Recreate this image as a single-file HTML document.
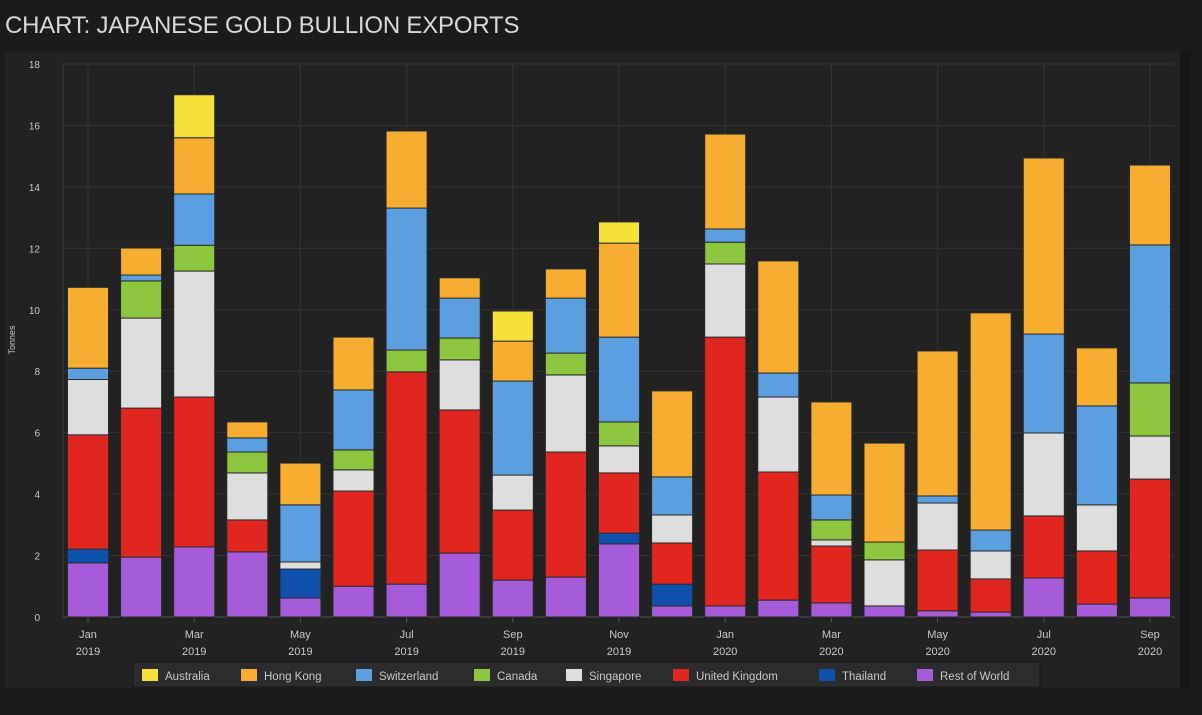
<!DOCTYPE html>
<html><head><meta charset="utf-8"><style>
html,body{margin:0;padding:0;background:#1b1b1c;width:1202px;height:715px;overflow:hidden;font-family:"Liberation Sans",sans-serif}
#title{position:absolute;left:5px;top:12px;font-size:24px;color:#d8d8d8;letter-spacing:-0.2px}
</style></head><body>
<div id="title">CHART: JAPANESE GOLD BULLION EXPORTS</div>
<svg id="chart" width="1202" height="715" style="position:absolute;left:0;top:0">
<rect x="5" y="52" width="1175" height="636" fill="#222223"/>
<rect x="1180" y="52" width="10" height="636" fill="#161617"/>
</svg>
<script>
const months=["Jan","Feb","Mar","Apr","May","Jun","Jul","Aug","Sep","Oct","Nov","Dec","Jan","Feb","Mar","Apr","May","Jun","Jul","Aug","Sep"];
const years=["2019","2019","2019","2019","2019","2019","2019","2019","2019","2019","2019","2019","2020","2020","2020","2020","2020","2020","2020","2020","2020"];
const seriesNames=["Rest of World","Thailand","United Kingdom","Singapore","Canada","Switzerland","Hong Kong","Australia"];
const seriesColors=["#a65bd8","#0e50ab","#e1261f","#dedede","#8dc63f","#5c9fe0","#f7ae30","#f6e03a"];
const restOfWorld=[1.76,1.95,2.28,2.12,0.62,1.0,1.07,2.08,1.2,1.3,2.38,0.36,0.36,0.55,0.46,0.36,0.2,0.16,1.27,0.42,0.62];
const thailand=[0.45,0,0,0,0.94,0,0,0,0,0,0.35,0.71,0,0,0,0,0,0,0,0,0];
const unitedKingdom=[3.72,4.85,4.88,1.04,0,3.1,6.91,4.66,2.28,4.07,1.96,1.34,8.75,4.17,1.85,0,1.98,1.08,2.02,1.73,3.87];
const singapore=[1.8,2.93,4.1,1.53,0.23,0.69,0,1.63,1.14,2.51,0.88,0.91,2.38,2.44,0.2,1.5,1.53,0.91,2.7,1.5,1.4];
const canada=[0,1.21,0.84,0.68,0,0.65,0.71,0.71,0,0.71,0.78,0,0.71,0,0.65,0.58,0,0,0,0,1.73];
const switzerland=[0.37,0.19,1.67,0.46,1.86,1.95,4.62,1.3,3.06,1.79,2.76,1.24,0.43,0.78,0.81,0,0.23,0.68,3.22,3.22,4.49];
const hongKong=[2.63,0.88,1.83,0.52,1.36,1.72,2.51,0.66,1.3,0.95,3.06,2.8,3.09,3.65,3.03,3.22,4.72,7.07,5.73,1.89,2.6];
const australia=[0,0,1.4,0,0,0,0,0,0.98,0,0.69,0,0,0,0,0,0,0,0,0,0];
const yTicks=[0,2,4,6,8,10,12,14,16,18];

const svg=document.getElementById('chart');
const NS='http://www.w3.org/2000/svg';
const X0=63,X1=1175,Y0=617,Y1=64,yMax=18;
const step=(1150-88)/20;
const xc=i=>88+i*step;
const y=v=>Y0-(v/yMax)*(Y0-Y1);
function mk(tag,attrs,parent){const e=document.createElementNS(NS,tag);for(const k in attrs)e.setAttribute(k,attrs[k]);(parent||svg).appendChild(e);return e;}
yTicks.forEach(t=>{
  const l=mk('line',{x1:X0,x2:X1,y1:y(t),y2:y(t),stroke:'#333336','stroke-width':1});
  
  
  const tx=mk('text',{x:40,y:y(t)+4,'text-anchor':'end','font-size':10,fill:'#c8c8c8','font-family':'Liberation Sans, sans-serif'});
  tx.textContent=t;
  
  
});
months.forEach((m,i)=>{
  if(i%2===0){
    const l=mk('line',{x1:xc(i),x2:xc(i),y1:Y1,y2:Y0,stroke:'#333336','stroke-width':1});
    
    
    mk('line',{x1:xc(i),x2:xc(i),y1:Y0,y2:Y0+5,stroke:'#555'});
    const t1=mk('text',{x:xc(i),y:638,'text-anchor':'middle','font-size':11,fill:'#c8c8c8','font-family':'Liberation Sans, sans-serif'});
    t1.textContent=m;
    
    
    const t2=mk('text',{x:xc(i),y:655,'text-anchor':'middle','font-size':11,fill:'#c8c8c8','font-family':'Liberation Sans, sans-serif'});
    t2.textContent=years[i];
    
    
  }
});
mk('line',{x1:X0,x2:X0,y1:Y1,y2:Y0,stroke:'#3a3a3d'});
mk('line',{x1:X0,x2:X1,y1:Y0,y2:Y0,stroke:'#555'});
const yl=mk('text',{x:0,y:0,transform:'translate(15,340) rotate(-90)','text-anchor':'middle','font-size':9,fill:'#c8c8c8','font-family':'Liberation Sans, sans-serif'});
yl.textContent='Tonnes';


const series=[restOfWorld,thailand,unitedKingdom,singapore,canada,switzerland,hongKong,australia];
const bw=41;
months.forEach((m,i)=>{
  let acc=0;
  series.forEach((s,k)=>{
    const v=s[i]; if(!v)return;
    const r=mk('rect',{x:xc(i)-bw/2,y:y(acc+v),width:bw,height:y(acc)-y(acc+v),fill:seriesColors[k],stroke:'#2a2a2a','stroke-width':1});
    
    
    acc+=v;
  });
});
const lg=mk('g',{});


mk('rect',{x:133,y:662,width:907,height:25,fill:'#2c2c2e',stroke:'#161616'},lg);
const legOrder=[7,6,5,4,3,2,1,0];
const legX=[142,241,356,474,566,673,819,917];
legOrder.forEach((k,j)=>{
  const g=mk('g',{},lg);
  
  
  mk('rect',{x:legX[j],y:669,width:16,height:12,fill:seriesColors[k]},g);
  const t=mk('text',{x:legX[j]+23,y:680,'font-size':11.5,fill:'#c8c8c8','font-family':'Liberation Sans, sans-serif'},g);
  t.textContent=seriesNames[k];
});
</script>
</body></html>
